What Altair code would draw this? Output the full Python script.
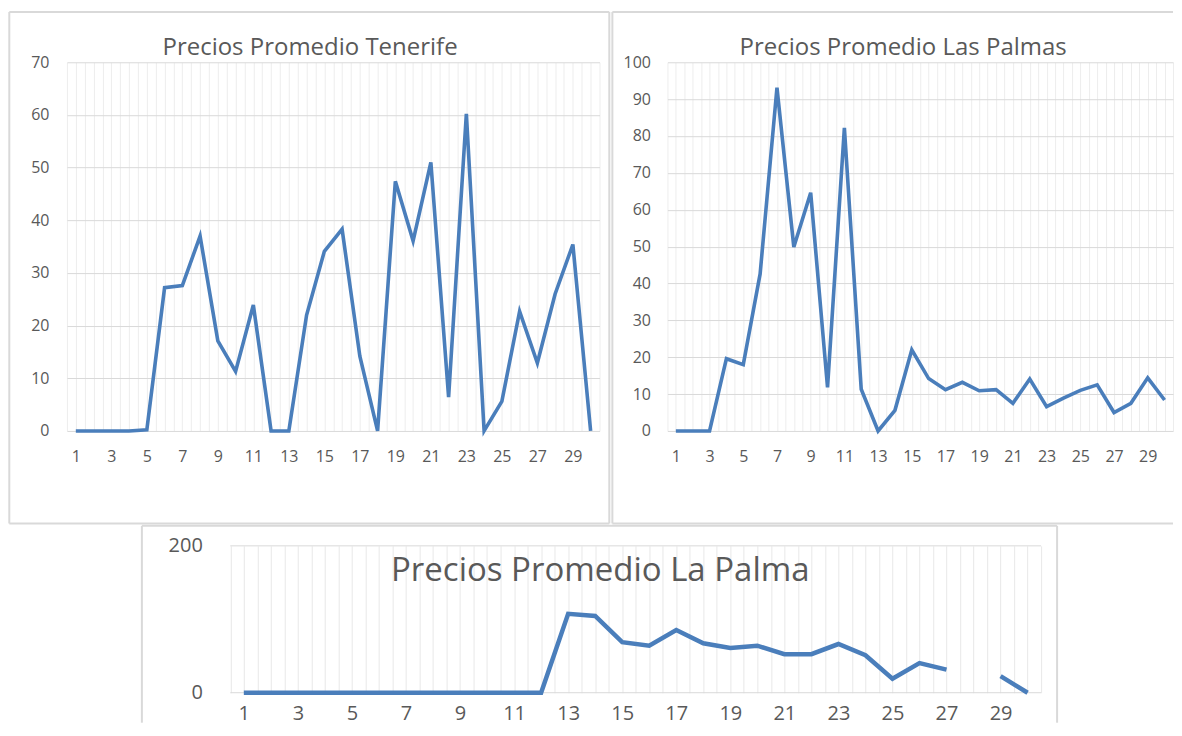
import altair as alt
import pandas as pd

days = list(range(1, 31))

tenerife = [0, 0, 0, 0, 0.2, 27.2, 27.6, 37.0, 17.1, 11.3, 23.9, 0, 0, 22.0, 34.1,
            38.3, 14.2, 0, 47.4, 36.1, 51.0, 6.4, 60.2, 0, 5.6, 22.7, 12.9, 26.0, 35.4, 0]

las_palmas = [0, 0, 0, 19.6, 18.0, 42.6, 93.1, 49.9, 64.6, 11.8, 82.2, 11.3, 0, 5.6, 22.0,
              14.2, 11.2, 13.2, 10.9, 11.2, 7.5, 14.1, 6.6, 8.9, 11.0, 12.5, 5.0, 7.5, 14.4, 8.4]

la_palma = [0, 0, 0, 0, 0, 0, 0, 0, 0, 0, 0, 0, 107.5, 104.5, 68.8, 64.0, 85.3, 67.3,
            61.0, 64.0, 52.5, 52.5, 66.3, 51.0, 19.0, 40.3, 31.5, None, 22.5, 0]

la_palma_ticks = [0, 200]

titles = ["Precios Promedio Tenerife", "Precios Promedio Las Palmas", "Precios Promedio La Palma"]

LINE = "#4A7EBB"
GRID_H = "#d9d9d9"
GRID_V = "#ededed"
FRAME = "#d9d9d9"
TXT = "#595959"
FONT = "Open Sans"

half_steps = [i / 2 for i in range(1, 62)]
odd_label = "datum.value % 2 == 1 ? format(datum.value, 'd') : ''"

ONE = alt.Data(values=[{}])


def frame_rules(lines):
    out = []
    for ln in lines:
        if ln[0] == "v":
            _, x, y1, y2 = ln
            enc = dict(x=alt.value(x), y=alt.value(y1), y2=alt.value(y2))
        else:
            _, y, x1, x2 = ln
            enc = dict(y=alt.value(y), x=alt.value(x1), x2=alt.value(x2))
        out.append(alt.Chart(ONE).mark_rule(color=FRAME, strokeWidth=2).encode(**enc))
    return out


def panel(values, title, w, h, ymax, yticks, lab_size, title_size, title_pos,
          lab_pad_x, lab_pad_y, line_w, frame, x_range=None, y_grid=True,
          vgrid=GRID_V):
    df = pd.DataFrame({"dia": days, "precio": values})
    xscale_kw = dict(domain=[0.5, 30.5], nice=False, zero=False)
    yaxis_extra = {}
    if x_range is not None:
        xscale_kw["range"] = x_range
        yaxis_extra["offset"] = -x_range[0]
    xs = alt.Scale(**xscale_kw)
    ys = alt.Scale(domain=[0, ymax], nice=False)
    xa = alt.Axis(values=half_steps, labelExpr=odd_label, grid=True,
                  gridColor=vgrid, gridWidth=1, ticks=False, domain=False,
                  labelOverlap=False, labelFlush=False, labelBound=False,
                  labelFont=FONT, labelColor=TXT,
                  labelFontSize=lab_size, labelPadding=lab_pad_x,
                  labelBaseline="middle")
    ya = alt.Axis(values=yticks, grid=y_grid,
                  gridColor=GRID_H, gridWidth=1, ticks=False, domain=False,
                  labelFont=FONT, labelColor=TXT,
                  labelFontSize=lab_size, labelPadding=lab_pad_y, **yaxis_extra)
    line = alt.Chart(df).mark_line(color=LINE, strokeWidth=line_w,
                                   invalid="break-paths-show-domains").encode(
        x=alt.X("dia:Q", title=None, scale=xs, axis=xa),
        y=alt.Y("precio:Q", title=None, scale=ys, axis=ya),
    )
    title_mark = alt.Chart(ONE).mark_text(
        text=title, font=FONT, fontSize=title_size, color=TXT, align="center",
        baseline="alphabetic").encode(x=alt.value(title_pos[0]), y=alt.value(title_pos[1]))
    layers = frame_rules(frame)
    if not y_grid:
        gdf = pd.DataFrame({"g": yticks, "x0": [0.5] * len(yticks),
                            "x1": [30.5] * len(yticks)})
        layers.append(alt.Chart(gdf).mark_rule(color=GRID_H, strokeWidth=1).encode(
            x=alt.X("x0:Q", title=None, scale=xs, axis=xa),
            x2="x1:Q",
            y=alt.Y("g:Q", title=None, scale=ys, axis=ya)))
    layers.append(line)
    layers.append(title_mark)
    return alt.layer(*layers).properties(width=w, height=h)


tf = panel(tenerife, titles[0], 533, 369, 70, list(range(0, 71, 10)), 16, 24, (243.3, -7.3),
           26, 18, 3.6,
           [("v", -57.7, -50.3, 461.7), ("v", 542.8, -50.3, 461.7),
            ("h", -50.3, -57.7, 542.8), ("h", 461.7, -57.7, 542.8)])

lp = panel(las_palmas, titles[1], 506, 369, 100, list(range(0, 101, 10)), 16, 24,
           (235.9, -7.3), 26, 17, 3.6,
           [("v", -55.1, -50.3, 461.7), ("h", -50.3, -55.1, 506),
            ("h", 461.7, -55.1, 506)])

# La Palma: its plot sits 163 px right of the Tenerife plot origin
lapalma = panel(la_palma, titles[2], 975, 147, 200, la_palma_ticks, 20, 33, (533.8, 35),
                21, 28, 4.5,
                [("v", 75, -20, 177), ("v", 991, -20, 177), ("h", -20, 75, 991)],
                x_range=[163.5, 975], y_grid=False, vgrid="#e8e8e8")

chart = alt.vconcat(
    alt.hconcat(tf, lp, spacing=0),
    lapalma,
    spacing=0,
    center=False,
).properties(
    padding={"top": 2, "left": 0, "right": 0, "bottom": 3},
    background="white",
).configure_view(strokeWidth=0)

chart.save("out.html", embed_options={"renderer": "svg", "actions": False})
